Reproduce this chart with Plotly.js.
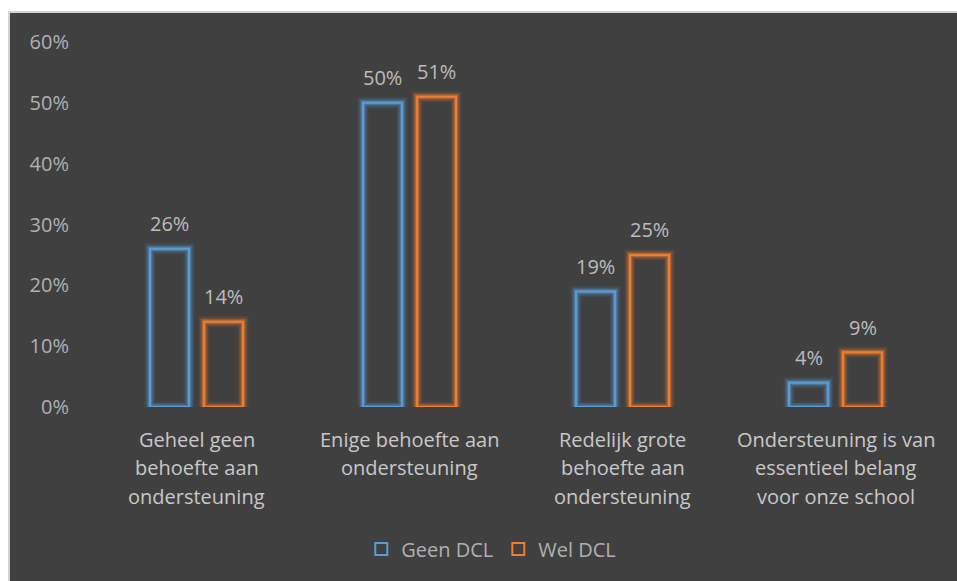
<!DOCTYPE html>
<html>
<head>
<meta charset="utf-8">
<script src="https://cdn.plot.ly/plotly-3.0.1.min.js"></script>
<style>
html,body{margin:0;padding:0;background:#ffffff;width:957px;height:581px;overflow:hidden;}
#frame{position:absolute;left:8px;top:11px;width:949px;height:570px;background:#d4d4d4;}
#chart{position:absolute;left:2px;top:2px;width:947px;height:568px;}
</style>
</head>
<body>
<div id="frame"><div id="chart"></div></div>
<script>
// ---- data ----
const categories = [
  "Geheel geen behoefte aan ondersteuning",
  "Enige behoefte aan ondersteuning",
  "Redelijk grote behoefte aan ondersteuning",
  "Ondersteuning is van essentieel belang voor onze school"
];
const categoryLines = [
  ["Geheel geen", "behoefte aan", "ondersteuning"],
  ["Enige behoefte aan", "ondersteuning"],
  ["Redelijk grote", "behoefte aan", "ondersteuning"],
  ["Ondersteuning is van", "essentieel belang", "voor onze school"]
];
const seriesNames = ["Geen DCL", "Wel DCL"];
const geenDCL = [0.26, 0.50, 0.19, 0.04];
const welDCL  = [0.14, 0.51, 0.25, 0.09];
const yTickVals = [0, 0.1, 0.2, 0.3, 0.4, 0.5, 0.6];

// ---- styles ----
const BG = "#404040";
const BLUE = "#5b9bd5", ORANGE = "#ed7d31";
const FONT = "Open Sans, sans-serif";
const BARGAP = 0.493, GROUPGAP = 0.278;

const seriesList = [
  {name: seriesNames[0], values: geenDCL, color: BLUE, glow: "rgba(91,155,213,", group: "g"},
  {name: seriesNames[1], values: welDCL, color: ORANGE, glow: "rgba(237,125,49,", group: "w"}
];

const traces = [];
// glow layers
[[11, 0.10], [8, 0.16], [5.5, 0.25], [4, 0.35]].forEach(([w, a]) => {
  seriesList.forEach(s => {
    traces.push({
      type: "bar", x: categories, y: s.values, offsetgroup: s.group,
      marker: {color: "rgba(0,0,0,0)", line: {color: s.glow + a + ")", width: w}},
      showlegend: false, hoverinfo: "skip"
    });
  });
});
// main bars
seriesList.forEach(s => {
  traces.push({
    type: "bar", name: s.name, x: categories, y: s.values, offsetgroup: s.group,
    marker: {color: "rgba(64,64,64,0)", line: {color: s.color, width: 2}}
  });
});

const annotations = [];
const slot = (1 - BARGAP) / 2;
seriesList.forEach((s, si) => {
  s.values.forEach((v, i) => {
    annotations.push({
      x: i + (si === 0 ? -slot / 2 : slot / 2), y: v, xref: "x", yref: "y",
      text: Math.round(v * 100) + "%", showarrow: false, yanchor: "middle", yshift: 25,
      font: {family: FONT, size: 20, color: "#bcbcbc"}
    });
  });
});
categoryLines.forEach((lines, i) => {
  lines.forEach((t, li) => {
    annotations.push({
      x: i, y: 0, xref: "x", yref: "y", text: t, showarrow: false,
      yanchor: "middle", yshift: -(32 + li * 28.7),
      font: {family: FONT, size: 20, color: "#c8c8c8"}
    });
  });
});

const layout = {
  width: 947, height: 568,
  paper_bgcolor: BG, plot_bgcolor: BG,
  margin: {l: 80, r: 15, t: 29, b: 174},
  barmode: "group", bargap: BARGAP, bargroupgap: GROUPGAP,
  font: {family: FONT, color: "#b0b0b0"},
  showlegend: true,
  legend: {orientation: "h", x: 0.471, xanchor: "center", y: -0.389, yanchor: "middle",
           font: {family: FONT, size: 20, color: "#b0b0b0"}, bgcolor: "rgba(0,0,0,0)"},
  xaxis: {type: "category", showticklabels: false, showgrid: false, zeroline: false,
          showline: false, ticks: "", range: [-0.5, categories.length - 0.5]},
  yaxis: {range: [0, 0.6], tickvals: yTickVals, tickformat: ".0%", showgrid: false,
          zeroline: false, showline: false, ticks: "", ticklabelstandoff: 20,
          tickfont: {family: FONT, size: 20, color: "#b0b0b0"}},
  annotations: annotations
};

Plotly.newPlot("chart", traces, layout, {displayModeBar: false, staticPlot: true});
</script>
</body>
</html>
